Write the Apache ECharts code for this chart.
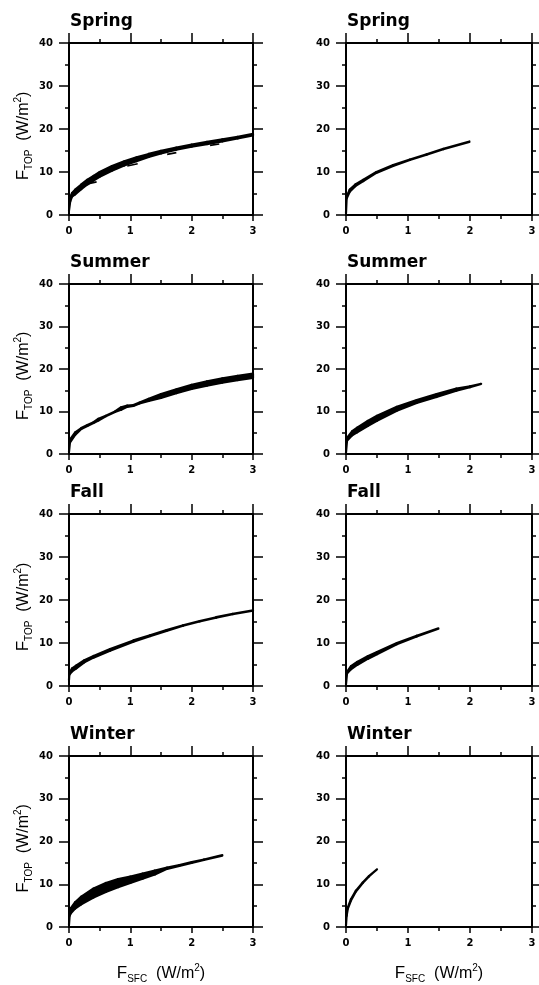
<!DOCTYPE html>
<html>
<head>
<meta charset="utf-8">
<script src="https://cdn.jsdelivr.net/npm/echarts@6/dist/echarts.min.js"></script>
<style>
  html, body { margin: 0; padding: 0; background: #fff; }
  #chart { width: 539px; height: 985px; }
</style>
</head>
<body>
<div id="chart"></div>
<script>
// Seasonal relation between surface forcing and top-of-atmosphere forcing
const seasons = ['Spring', 'Summer', 'Fall', 'Winter'];
const xTicks = [0, 1, 2, 3];
const yTicks = [0, 10, 20, 30, 40];

// Left column: F_SFC, upper and lower edge of the scatter band of F_TOP
const springLX  = [0, 0.02, 0.05, 0.1, 0.2, 0.3, 0.4, 0.5, 0.7, 0.9, 1.1, 1.3, 1.5, 1.75, 2.0, 2.25, 2.5, 2.75, 3.0];
const springLHi = [1.0, 4.2, 5.1, 5.9, 7.1, 8.2, 9.1, 10.0, 11.4, 12.5, 13.4, 14.2, 14.9, 15.7, 16.4, 17.0, 17.6, 18.2, 18.9];
const springLLo = [1.0, 3.2, 4.3, 4.8, 6.0, 7.1, 8.0, 8.9, 10.3, 11.5, 12.5, 13.5, 14.3, 15.2, 15.9, 16.5, 17.1, 17.8, 18.5];
const springStrayX = [0.30, 0.45, '-', 0.95, 1.12, '-', 1.60, 1.75, '-', 2.30, 2.45];
const springStrayY = [7.2, 7.7, '-', 11.4, 11.9, '-', 14.1, 14.5, '-', 16.2, 16.5];

const summerLX  = [0, 0.015, 0.1, 0.2, 0.3, 0.4, 0.48, 0.6, 0.75, 0.85, 0.95, 1.05, 1.15, 1.3, 1.5, 1.75, 2.0, 2.25, 2.5, 2.75, 3.0];
const summerLHi = [0.5, 3.4, 5.1, 6.1, 6.8, 7.5, 8.3, 9.0, 10.0, 11.0, 11.4, 11.5, 12.1, 13.0, 14.1, 15.2, 16.3, 17.1, 17.8, 18.4, 18.9];
const summerLLo = [0.5, 2.7, 4.5, 5.9, 6.6, 7.3, 7.9, 8.9, 9.9, 10.4, 11.1, 11.3, 11.9, 12.5, 13.2, 14.3, 15.3, 16.1, 16.8, 17.4, 17.9];

const fallLX  = [0, 0.005, 0.05, 0.12, 0.25, 0.4, 0.67, 1.05, 1.32, 1.59, 1.86, 2.13, 2.4, 2.67, 3.0];
const fallLHi = [1.4, 2.9, 4.1, 4.8, 6.0, 7.0, 8.6, 10.6, 11.8, 13.0, 14.1, 15.1, 16.0, 16.8, 17.6];
const fallLLo = [1.4, 2.6, 3.4, 4.1, 5.5, 6.6, 8.2, 10.3, 11.6, 12.8, 14.0, 15.0, 15.9, 16.7, 17.5];

const winterLX  = [0, 0.01, 0.03, 0.1, 0.2, 0.4, 0.6, 0.8, 1.0, 1.2, 1.4, 1.6, 1.8, 2.0, 2.2, 2.5];
const winterLHi = [0.5, 3.0, 4.4, 5.8, 7.1, 9.0, 10.3, 11.2, 11.8, 12.5, 13.2, 13.9, 14.5, 15.2, 15.8, 16.8];
const winterLLo = [0.5, 2.6, 3.2, 4.3, 5.3, 6.9, 8.2, 9.3, 10.3, 11.3, 12.3, 13.6, 14.3, 15.0, 15.7, 16.7];

// Right column
const springRX  = [0, 0.01, 0.06, 0.15, 0.28, 0.49, 0.76, 1.03, 1.3, 1.57, 1.99];
const springRHi = [0.4, 4.3, 5.9, 7.1, 8.2, 10.0, 11.6, 12.9, 14.1, 15.4, 17.1];
const springRLo = [0.4, 3.8, 5.4, 6.7, 7.9, 9.8, 11.4, 12.8, 14.0, 15.3, 17.0];

const summerRX  = [0, 0.016, 0.1, 0.18, 0.35, 0.5, 0.82, 1.14, 1.46, 1.78, 2.0, 2.18];
const summerRHi = [0.3, 3.8, 5.4, 6.2, 7.8, 9.0, 11.1, 12.7, 14.1, 15.4, 15.9, 16.5];
const summerRLo = [0.3, 3.1, 4.4, 5.1, 6.6, 7.8, 10.2, 12.0, 13.4, 14.9, 15.7, 16.5];

const fallRX  = [0, 0.016, 0.08, 0.18, 0.35, 0.5, 0.82, 1.14, 1.49];
const fallRHi = [0.4, 3.3, 4.6, 5.6, 6.9, 7.9, 10.0, 11.7, 13.4];
const fallRLo = [0.4, 2.9, 3.9, 4.9, 6.3, 7.4, 9.7, 11.5, 13.3];

const winterRX  = [0, 0.01, 0.03, 0.08, 0.16, 0.27, 0.37, 0.5];
const winterRHi = [0.4, 3.0, 4.6, 6.5, 8.5, 10.4, 11.9, 13.5];
const winterRLo = [0.4, 2.6, 4.3, 6.2, 8.3, 10.3, 11.8, 13.5];

const panels = [
  { title: seasons[0], row: 0, col: 0, x: springLX, hi: springLHi, lo: springLLo },
  { title: seasons[0], row: 0, col: 1, x: springRX, hi: springRHi, lo: springRLo },
  { title: seasons[1], row: 1, col: 0, x: summerLX, hi: summerLHi, lo: summerLLo },
  { title: seasons[1], row: 1, col: 1, x: summerRX, hi: summerRHi, lo: summerRLo },
  { title: seasons[2], row: 2, col: 0, x: fallLX,   hi: fallLHi,   lo: fallLLo },
  { title: seasons[2], row: 2, col: 1, x: fallRX,   hi: fallRHi,   lo: fallRLo },
  { title: seasons[3], row: 3, col: 0, x: winterLX, hi: winterLHi, lo: winterLLo },
  { title: seasons[3], row: 3, col: 1, x: winterRX, hi: winterRHi, lo: winterRLo }
];

// Panel frame placement
const rowTop    = [43, 284, 514, 756];
const rowHeight = [172, 170, 172, 173];
const colLeft   = [69, 346];
const colWidth  = [184, 186];

const FONT = 'DejaVu Sans';
const LABEL_FONT = 'Liberation Sans';

const nameRich = {
  f: { fontFamily: LABEL_FONT, fontSize: 17, color: '#000', lineHeight: 21 },
  s: { fontFamily: LABEL_FONT, fontSize: 10, color: '#000', verticalAlign: 'bottom', lineHeight: 10 },
  t: { fontFamily: LABEL_FONT, fontSize: 16, color: '#000' },
  p: { fontFamily: LABEL_FONT, fontSize: 10, color: '#000', verticalAlign: 'top', lineHeight: 10 }
};
const yName = '{f|F}{s|TOP}{t|  (W/m}{p|2}{t|)}';
const xName = '{f|F}{s|SFC}{t|  (W/m}{p|2}{t|)}';

const axisLine = { show: true, onZero: false, lineStyle: { color: '#000', width: 2 } };
const minor = (len) => ({ show: true, splitNumber: 2, length: len, lineStyle: { color: '#000', width: 1.5 } });
const major = (len) => ({ show: true, inside: false, length: len, lineStyle: { color: '#000', width: 1.5 } });
const tickLabel = { show: true, color: '#000', fontFamily: FONT, fontWeight: 'bold', fontSize: 10 };

const grids = [], xAxes = [], yAxes = [], series = [], titles = [];

panels.forEach((p, k) => {
  grids.push({ left: colLeft[p.col], top: rowTop[p.row], width: colWidth[p.col], height: rowHeight[p.row] });
  const xmin = xTicks[0], xmax = xTicks[xTicks.length - 1];
  const ymin = yTicks[0], ymax = yTicks[yTicks.length - 1];
  const bottomRow = p.row === 3;
  xAxes.push({
    type: 'value', gridIndex: k, position: 'bottom', min: xmin, max: xmax, interval: xTicks[1] - xTicks[0],
    axisLine, axisTick: major(6), minorTick: minor(4), splitLine: { show: false },
    axisLabel: Object.assign({ margin: 11 }, tickLabel),
    name: bottomRow ? xName : '', nameLocation: 'middle', nameGap: 36,
    nameTextStyle: { rich: nameRich }
  });
  xAxes.push({
    type: 'value', gridIndex: k, position: 'top', min: xmin, max: xmax, interval: xTicks[1] - xTicks[0],
    axisLine, axisTick: major(10), minorTick: minor(4), splitLine: { show: false },
    axisLabel: { show: false }
  });
  yAxes.push({
    type: 'value', gridIndex: k, position: 'left', min: ymin, max: ymax, interval: yTicks[1] - yTicks[0],
    axisLine, axisTick: major(10), minorTick: minor(4), splitLine: { show: false },
    axisLabel: Object.assign({ margin: 16 }, tickLabel),
    name: p.col === 0 ? yName : '', nameLocation: 'middle', nameGap: 35, nameRotate: 90,
    nameTextStyle: { rich: nameRich, padding: [0, 14, 0, 0] }
  });
  yAxes.push({
    type: 'value', gridIndex: k, position: 'right', min: ymin, max: ymax, interval: yTicks[1] - yTicks[0],
    axisLine, axisTick: major(10), minorTick: minor(4), splitLine: { show: false },
    axisLabel: { show: false }
  });

  const rows = p.x.map((x, i) => [x, p.lo[i], p.hi[i]]);
  series.push({
    type: 'custom', xAxisIndex: 2 * k, yAxisIndex: 2 * k,
    data: rows, encode: { x: 0, y: [1, 2] }, silent: true, z: 3,
    renderItem: function (params, api) {
      const i = params.dataIndex;
      if (i >= rows.length - 1) return null;
      const a = rows[i], b = rows[i + 1];
      return {
        type: 'polygon',
        shape: { points: [api.coord([a[0], a[1]]), api.coord([b[0], b[1]]), api.coord([b[0], b[2]]), api.coord([a[0], a[2]])] },
        style: { fill: '#000', stroke: '#000', lineWidth: 2.2, lineJoin: 'round' }
      };
    }
  });

  titles.push({
    text: p.title, left: colLeft[p.col] + 1, top: rowTop[p.row] - 30,
    textStyle: { fontFamily: FONT, fontWeight: 'bold', fontSize: 17, color: '#000' }, padding: 0
  });
});

// Detached fragments below the spring band
series.push({
  type: 'line', xAxisIndex: 0, yAxisIndex: 0, symbol: 'none', silent: true, z: 3,
  data: springStrayX.map((x, i) => [x, springStrayY[i]]),
  lineStyle: { color: '#000', width: 1.6 }
});

const chart = echarts.init(document.getElementById('chart'), null, { renderer: 'canvas' });
chart.setOption({
  animation: false,
  backgroundColor: '#fff',
  title: titles,
  grid: grids,
  xAxis: xAxes,
  yAxis: yAxes,
  series
});
</script>
</body>
</html>
